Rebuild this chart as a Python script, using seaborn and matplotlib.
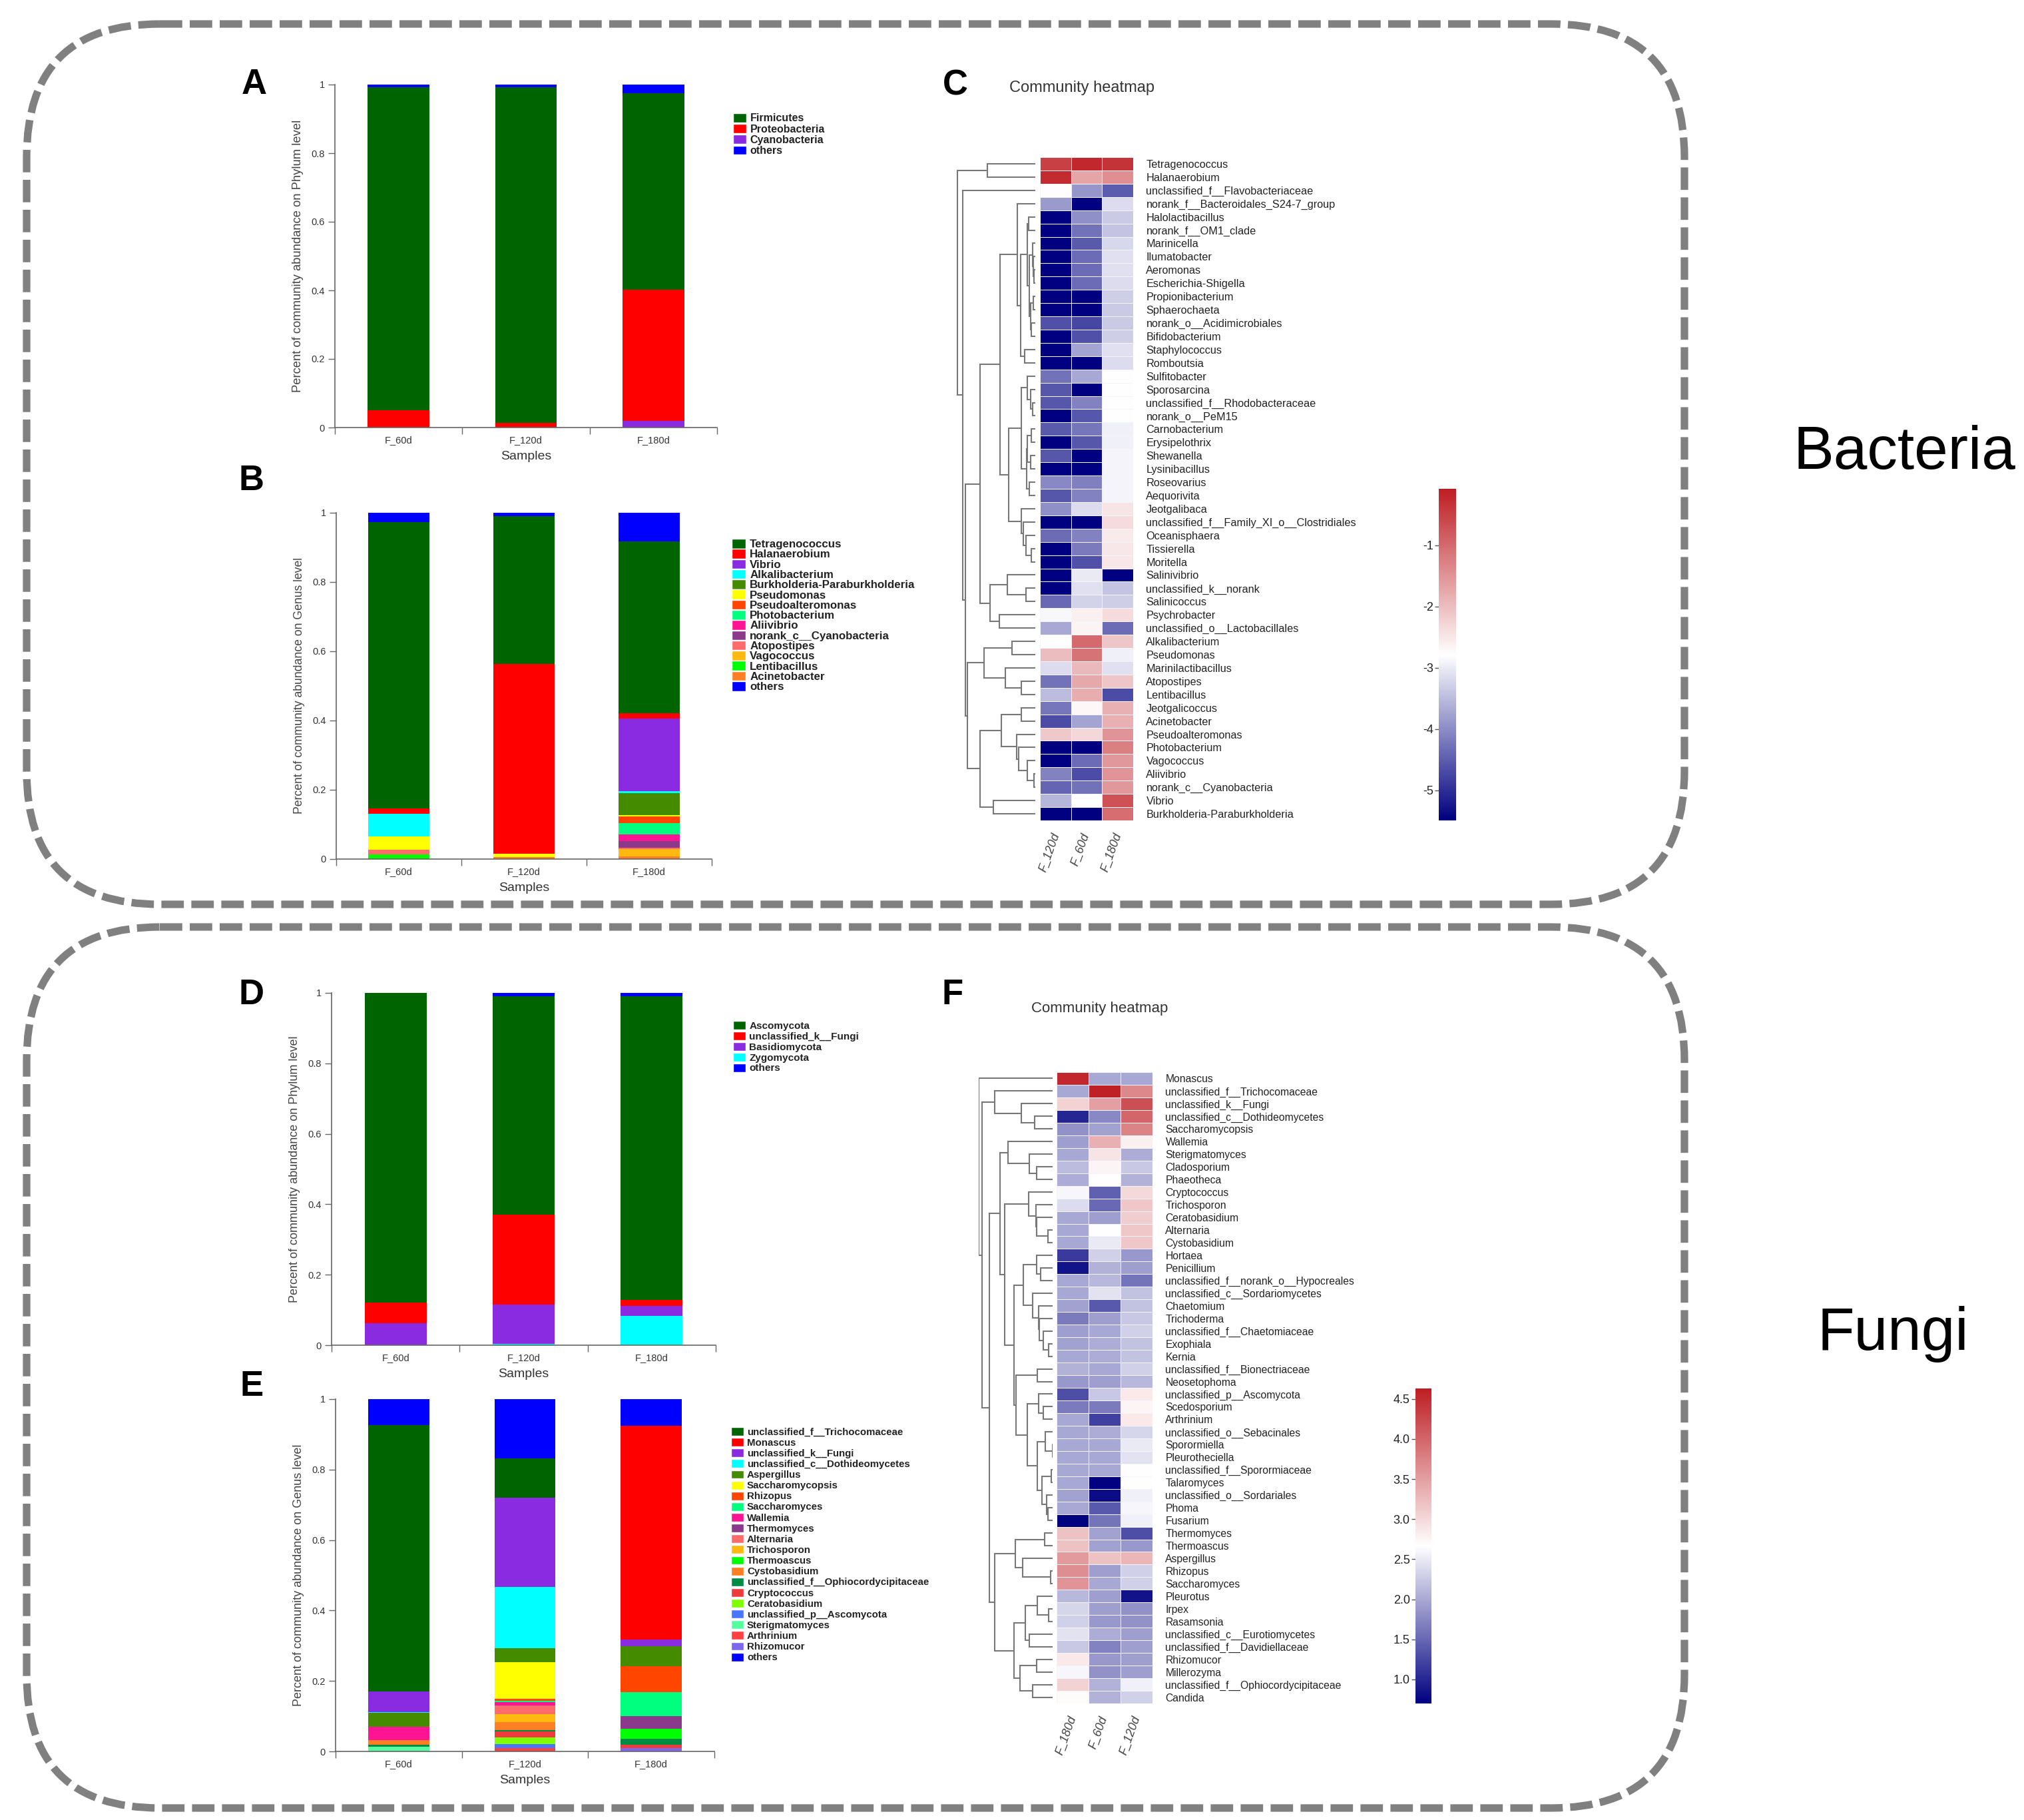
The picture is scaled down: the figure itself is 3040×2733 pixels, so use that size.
import matplotlib
matplotlib.use("Agg")
import matplotlib.pyplot as plt
from matplotlib.colors import LinearSegmentedColormap
from matplotlib.patches import FancyBboxPatch, Patch
from matplotlib.transforms import ScaledTranslation
import numpy as np
import seaborn as sns

sns.set_theme(style="white")
plt.rcParams["font.family"] = ["Liberation Sans", "DejaVu Sans"]

W, H = 3040, 2733
samples = ["F_60d", "F_120d", "F_180d"]
others = "#0000FF"

# A - bacteria, phylum
a_taxa = ["Firmicutes", "Proteobacteria", "Cyanobacteria", "others"]
a_colors = ["#006400", "#FF0000", "#8A2BE2", others]
a_60 = [0.943, 0.050, 0, 0.007]
a_120 = [0.979, 0.014, 0, 0.007]
a_180 = [0.574, 0.382, 0.019, 0.025]

# B - bacteria, genus
b_taxa = ["Tetragenococcus", "Halanaerobium", "Vibrio", "Alkalibacterium",
          "Burkholderia-Paraburkholderia", "Pseudomonas", "Pseudoalteromonas",
          "Photobacterium", "Aliivibrio", "norank_c__Cyanobacteria", "Atopostipes",
          "Vagococcus", "Lentibacillus", "Acinetobacter", "others"]
b_colors = ["#006400", "#FF0000", "#8A2BE2", "#00FFFF", "#458B00", "#FFFF00", "#FF4500",
            "#00FF7F", "#FF1493", "#8B3A8B", "#FF6A6A", "#FFB90F", "#00FF00", "#FF7F24", others]
b_60 = [0.827, 0.017, 0, 0.064, 0, 0.039, 0, 0, 0, 0, 0.013, 0, 0.014, 0, 0.026]
b_120 = [0.426, 0.548, 0, 0, 0, 0.010, 0, 0, 0, 0, 0, 0, 0, 0.006, 0.010]
b_180 = [0.497, 0.016, 0.209, 0.006, 0.064, 0.003, 0.020, 0.031, 0.020, 0.019, 0.005, 0.020, 0, 0.008, 0.082]

# D - fungi, phylum
d_taxa = ["Ascomycota", "unclassified_k__Fungi", "Basidiomycota", "Zygomycota", "others"]
d_colors = ["#006400", "#FF0000", "#8A2BE2", "#00FFFF", others]
d_60 = [0.879, 0.058, 0.063, 0, 0]
d_120 = [0.621, 0.254, 0.112, 0.004, 0.009]
d_180 = [0.863, 0.017, 0.027, 0.084, 0.009]

# E - fungi, genus
e_taxa = ["unclassified_f__Trichocomaceae", "Monascus", "unclassified_k__Fungi",
          "unclassified_c__Dothideomycetes", "Aspergillus", "Saccharomycopsis", "Rhizopus",
          "Saccharomyces", "Wallemia", "Thermomyces", "Alternaria", "Trichosporon", "Thermoascus",
          "Cystobasidium", "unclassified_f__Ophiocordycipitaceae", "Cryptococcus", "Ceratobasidium",
          "unclassified_p__Ascomycota", "Sterigmatomyces", "Arthrinium", "Rhizomucor", "others"]
e_colors = ["#006400", "#FF0000", "#8A2BE2", "#00FFFF", "#458B00", "#FFFF00", "#FF4500", "#00FF7F",
            "#FF1493", "#8B3A8B", "#FF6A6A", "#FFB90F", "#00FF00", "#FF7F24", "#008B45", "#EE3B3B",
            "#7FFF00", "#4876FF", "#54FF9F", "#FF4040", "#7B68EE", others]
e_60 = [0.756, 0, 0.059, 0.002, 0.039, 0, 0, 0.001, 0.037, 0, 0, 0, 0, 0.013, 0.006, 0, 0, 0, 0.013, 0, 0, 0.074]
e_120 = [0.111, 0, 0.253, 0.174, 0.040, 0.104, 0.005, 0.005, 0.008, 0, 0.025, 0.023, 0, 0.023, 0.004, 0.017,
         0.018, 0.011, 0, 0.010, 0, 0.169]
e_180 = [0, 0.607, 0.018, 0, 0.057, 0, 0.073, 0.069, 0, 0.036, 0, 0, 0.029, 0, 0.017, 0.008, 0, 0, 0, 0, 0.010, 0.076]

# C - bacteria heatmap
c_columns = ["F_120d", "F_60d", "F_180d"]
c_rows = ["Tetragenococcus", "Halanaerobium", "unclassified_f__Flavobacteriaceae",
          "norank_f__Bacteroidales_S24-7_group", "Halolactibacillus", "norank_f__OM1_clade", "Marinicella",
          "Ilumatobacter", "Aeromonas", "Escherichia-Shigella", "Propionibacterium", "Sphaerochaeta",
          "norank_o__Acidimicrobiales", "Bifidobacterium", "Staphylococcus", "Romboutsia", "Sulfitobacter",
          "Sporosarcina", "unclassified_f__Rhodobacteraceae", "norank_o__PeM15", "Carnobacterium",
          "Erysipelothrix", "Shewanella", "Lysinibacillus", "Roseovarius", "Aequorivita", "Jeotgalibaca",
          "unclassified_f__Family_XI_o__Clostridiales", "Oceanisphaera", "Tissierella", "Moritella",
          "Salinivibrio", "unclassified_k__norank", "Salinicoccus", "Psychrobacter",
          "unclassified_o__Lactobacillales", "Alkalibacterium", "Pseudomonas", "Marinilactibacillus",
          "Atopostipes", "Lentibacillus", "Jeotgalicoccus", "Acinetobacter", "Pseudoalteromonas",
          "Photobacterium", "Vagococcus", "Aliivibrio", "norank_c__Cyanobacteria", "Vibrio",
          "Burkholderia-Paraburkholderia"]
c_values = [[-0.5, -0.2, -0.35], [-0.25, -1.7, -1.45], [-2.75, -3.9, -4.5], [-3.85, -5.49, -3.15],
            [-5.49, -3.95, -3.35], [-5.49, -4.28, -3.4], [-5.49, -4.53, -3.2], [-5.49, -4.33, -3.12],
            [-5.49, -4.33, -3.12], [-5.49, -4.33, -3.15], [-5.49, -5.49, -3.3], [-5.49, -5.49, -3.35],
            [-4.63, -4.73, -3.35], [-5.49, -4.63, -3.3], [-5.49, -3.75, -3.12], [-5.49, -5.49, -3.15],
            [-4.28, -3.7, -2.8], [-4.58, -5.49, -2.8], [-4.58, -4.1, -2.8], [-5.49, -4.58, -2.8],
            [-4.53, -4.23, -2.95], [-5.49, -4.58, -2.95], [-4.58, -5.49, -2.9], [-5.49, -5.49, -2.9],
            [-4.05, -4.13, -2.9], [-4.58, -4.1, -2.9], [-3.95, -3.15, -2.45], [-5.49, -5.49, -2.35],
            [-4.33, -4.1, -2.55], [-5.49, -4.18, -2.5], [-5.49, -4.63, -2.5], [-5.49, -3.0, -5.49],
            [-5.49, -3.12, -3.4], [-4.38, -3.25, -3.3], [-2.85, -2.6, -2.35], [-3.7, -2.65, -4.33],
            [-2.8, -1.0, -2.1], [-2.0, -1.1, -2.95], [-3.15, -1.95, -3.12], [-4.28, -1.75, -2.1],
            [-3.5, -1.8, -4.68], [-4.23, -2.7, -1.85], [-4.68, -3.75, -1.85], [-2.15, -2.3, -1.5],
            [-5.49, -5.49, -1.25], [-5.49, -4.33, -1.55], [-4.1, -4.68, -1.5], [-4.43, -4.28, -1.55],
            [-3.55, -2.8, -0.7], [-5.49, -5.49, -1.05]]
c_ticks = [-1, -2, -3, -4, -5]
# (merge distance, child, child); an int child is a row index
c_tree = (228, (140, 0, 1), (213, 2, (206,
          (163, (103, (53, 3, (43, (23, (19, 4, 5), (17, (8, 6, (6, 7, (3, 8, 9))), (13, (5, 10, 11), (11, 12, 13)))),
                                (31, 14, 15))),
                 (78, (41, (23, 16, (13, 17, (8, 18, 19))), (25, (23, (11, 20, 21), (13, 22, 23)), (18, 24, 25))),
                  (41, 26, (35, 27, (28, 28, (11, 29, 30)))))),
           (133, (83, 31, (28, 32, 33)), (106, 34, 35))),
          (200, (151, (68, 36, 37), (88, 38, (41, 39, 40))),
           (163, (100, (41, 41, 42), (55, 43, (48, 44, (23, 45, (3, 46, 47))))), (123, 48, 49))))))

# F - fungi heatmap
f_columns = ["F_180d", "F_60d", "F_120d"]
f_rows = ["Monascus", "unclassified_f__Trichocomaceae", "unclassified_k__Fungi", "unclassified_c__Dothideomycetes",
          "Saccharomycopsis", "Wallemia", "Sterigmatomyces", "Cladosporium", "Phaeotheca", "Cryptococcus",
          "Trichosporon", "Ceratobasidium", "Alternaria", "Cystobasidium", "Hortaea", "Penicillium",
          "unclassified_f__norank_o__Hypocreales", "unclassified_c__Sordariomycetes", "Chaetomium", "Trichoderma",
          "unclassified_f__Chaetomiaceae", "Exophiala", "Kernia", "unclassified_f__Bionectriaceae", "Neosetophoma",
          "unclassified_p__Ascomycota", "Scedosporium", "Arthrinium", "unclassified_o__Sebacinales", "Sporormiella",
          "Pleurotheciella", "unclassified_f__Sporormiaceae", "Talaromyces", "unclassified_o__Sordariales", "Phoma",
          "Fusarium", "Thermomyces", "Thermoascus", "Aspergillus", "Rhizopus", "Saccharomyces", "Pleurotus", "Irpex",
          "Rasamsonia", "unclassified_c__Eurotiomycetes", "unclassified_f__Davidiellaceae", "Rhizomucor",
          "Millerozyma", "unclassified_f__Ophiocordycipitaceae", "Candida"]
f_values = [[4.55, 2.0, 2.0], [2.0, 4.6, 3.7], [3.05, 3.5, 4.2], [1.0, 1.75, 4.0], [1.83, 1.95, 3.75],
            [1.92, 3.35, 2.8], [2.0, 2.9, 2.03], [2.15, 2.75, 2.25], [2.03, 2.65, 2.08], [2.6, 1.45, 3.0],
            [2.4, 1.5, 3.15], [2.0, 1.92, 3.1], [2.0, 2.65, 3.15], [2.0, 2.5, 3.15], [1.15, 2.3, 1.88],
            [0.85, 2.08, 1.92], [2.0, 2.12, 1.6], [2.0, 2.45, 2.2], [1.95, 1.38, 2.2], [1.65, 1.92, 2.25],
            [1.92, 2.0, 2.3], [1.95, 2.03, 2.2], [2.0, 2.03, 2.2], [2.08, 2.0, 2.3], [1.88, 1.92, 2.12],
            [1.3, 2.25, 2.85], [1.65, 1.65, 2.75], [2.0, 1.2, 2.85], [2.0, 2.03, 2.35], [2.0, 2.0, 2.5],
            [2.0, 2.0, 2.45], [2.0, 2.0, 2.65], [2.0, 0.72, 2.65], [1.95, 0.8, 2.55], [2.0, 1.38, 2.6],
            [0.72, 1.6, 2.55], [3.2, 1.95, 1.3], [3.2, 1.95, 1.88], [3.55, 3.2, 3.3], [3.65, 1.92, 2.3],
            [3.6, 2.0, 2.3], [2.12, 1.92, 0.85], [2.35, 1.92, 1.83], [2.3, 1.88, 1.83], [2.45, 2.03, 1.92],
            [2.25, 1.7, 1.92], [2.85, 1.88, 1.92], [2.6, 1.83, 1.92], [3.05, 2.08, 2.55], [2.7, 2.08, 2.3]]
f_ticks = [1.0, 1.5, 2.0, 2.5, 3.0, 3.5, 4.0, 4.5]
f_tree = (248, 0, (236, (194, 1, (104, 2, (61, 3, 4))), (213,
          (176, (149, 5, (78, 6, (54, 7, 8))),
           (161, (81, 9, (56, 10, (54, 11, (16, 12, 13)))),
            (129, (99, (54, 14, (41, 15, 16)), (66, 17, (48, 18, (44, 19, (31, 20, (13, 21, 22)))))),
             (123, (51, 23, 24), (84, (46, 25, (31, 26, 27)),
                                  (51, (24, 28, (1, 29, 30)), (36, (4, 31, 32), (19, 33, (16, 34, 35))))))))),
          (194, (126, (26, 36, 37), (101, 38, (6, 39, 40))),
           (130, (91, (51, 41, (14, 42, 43)), (79, 44, 45)), (109, (54, 46, 47), (68, 48, 49)))))))

cmap = LinearSegmentedColormap.from_list("comm", ["#000080", "#FFFFFF", "#BE1E23"])
fig = plt.figure(figsize=(W / 100, H / 100), dpi=100, facecolor="white")


def px_axes(left, top, right, bottom):
    return fig.add_axes([left / W, 1 - bottom / H, (right - left) / W, (bottom - top) / H])


def stacked(box, legend_xy, taxa, colors, rows, level, font, spacing, ylab_size=13):
    ax = px_axes(*box)
    order = list(range(len(taxa) - 1))[::-1] + [len(taxa) - 1]
    bottom = np.zeros(3)
    for i in order:
        vals = np.array([r[i] for r in rows])
        sns.barplot(x=samples, y=vals, bottom=bottom, color=colors[i], width=0.485,
                    saturation=1, linewidth=0, ax=ax)
        bottom += vals
    ax.set_xlim(-0.5, 2.5)
    ax.set_ylim(0, 1)
    ax.set_yticks([0, 0.2, 0.4, 0.6, 0.8, 1], ["0", "0.2", "0.4", "0.6", "0.8", "1"])
    ax.set_xticks([-0.5, 0.5, 1.5, 2.5], ["", "", "", ""])
    ax.set_xticks([0, 1, 2], samples, minor=True)
    ax.tick_params(axis="x", which="major", length=7, width=1, color="#666666", bottom=True)
    ax.tick_params(axis="x", which="minor", length=0, pad=9, labelsize=10.5, labelcolor="#333333")
    ax.tick_params(axis="y", length=7, width=1, color="#666666", left=True, pad=4,
                   labelsize=10.5, labelcolor="#333333")
    sns.despine(ax=ax)
    for s in ("left", "bottom"):
        ax.spines[s].set_color("#666666")
        ax.spines[s].set_linewidth(1.2)
    ax.set_xlabel("Samples", fontsize=14, color="#333333", labelpad=6)
    ax.set_ylabel(f"Percent of community abundance on {level} level", fontsize=ylab_size,
                  color="#444444", labelpad=8)
    handles = [Patch(facecolor=c, label=t) for t, c in zip(taxa, colors)]
    ax.legend(handles=handles, loc="upper left", bbox_to_anchor=(legend_xy[0] / W, 1 - legend_xy[1] / H),
              bbox_transform=fig.transFigure, frameon=False, borderpad=0, borderaxespad=0,
              prop={"size": font, "weight": "bold"}, labelcolor="#222222", handlelength=1.25,
              handleheight=0.95, labelspacing=spacing, handletextpad=0.35)
    return ax


def draw_tree(ax, node):
    # returns the row position of a node, drawing its branches on the way
    if isinstance(node, int):
        return node + 0.5, 0
    dist, left, right = node
    y1, d1 = draw_tree(ax, left)
    y2, d2 = draw_tree(ax, right)
    ax.plot([d1, dist, dist, d2], [y1, y1, y2, y2], color="#777777", lw=1.5, solid_joinstyle="miter")
    return (y1 + y2) / 2, dist


def heat(box, rows, columns, values, tree, tree_box, tree_max, cbar_box, vlim, ticks, ticklabels, font):
    ax = px_axes(*box)
    cax = px_axes(*cbar_box)
    sns.heatmap(np.array(values), cmap=cmap, vmin=vlim[0], vmax=vlim[1], ax=ax, cbar_ax=cax,
                linewidths=0.6, linecolor="#F4F4FA", xticklabels=columns, yticklabels=rows)
    ax.yaxis.tick_right()
    ax.tick_params(axis="y", length=0, pad=14, labelsize=font, labelrotation=0, labelcolor="#222222")
    ax.tick_params(axis="x", length=0, pad=12, labelsize=13, labelcolor="#444444")
    shift = ScaledTranslation(-9 / 100, 0, fig.dpi_scale_trans)
    for lab in ax.get_xticklabels():
        lab.set_rotation(70)
        lab.set_fontstyle("italic")
        lab.set_ha("center")
        lab.set_transform(lab.get_transform() + shift)
    cax.yaxis.set_ticks_position("left")
    cax.set_yticks(ticks, ticklabels)
    cax.tick_params(length=4, width=1, color="#555555", labelsize=13, labelcolor="#222222", pad=2)
    for sp in cax.spines.values():
        sp.set_visible(False)
    tax = px_axes(*tree_box)
    draw_tree(tax, tree)
    tax.set_xlim(tree_max, 0)
    tax.set_ylim(len(rows), 0)
    tax.axis("off")


# panels
stacked((503, 127, 1077, 642), (1101, 170), a_taxa, a_colors, [a_60, a_120, a_180], "Phylum", 11.5, 0.05, 13.2)
stacked((505, 770, 1069, 1290), (1099, 809), b_taxa, b_colors, [b_60, b_120, b_180], "Genus", 12.2, -0.05, 12.7)
stacked((498, 1491, 1075, 2020), (1101, 1533), d_taxa, d_colors, [d_60, d_120, d_180], "Phylum", 11, 0.07)
stacked((504, 2101, 1073, 2630), (1098, 2143), e_taxa, e_colors, [e_60, e_120, e_180], "Genus", 10.8, 0.1)

heat((1562, 236, 1702, 1232), c_rows, c_columns, c_values, c_tree, (1427, 236, 1555, 1232), 250,
     (2161, 734, 2187, 1232), (-5.49, -0.08), c_ticks, [str(t) for t in c_ticks], 11.7)
heat((1587, 1610, 1731, 2558), f_rows, f_columns, f_values, f_tree, (1470, 1610, 1581, 2558), 248,
     (2126, 2085, 2150, 2558), (0.70, 4.63), f_ticks, [f"{t:.1f}" for t in f_ticks], 11.3)

# overlay: dashed frames, panel letters, group names
over = fig.add_axes([0, 0, 1, 1], facecolor="none")
over.set_xlim(0, W)
over.set_ylim(H, 0)
over.axis("off")
for top, bottom in ((36, 1358), (1392, 2715)):
    over.add_patch(FancyBboxPatch((40, top), 2490, bottom - top, boxstyle="round,pad=0,rounding_size=200",
                                  fill=False, edgecolor="#808080", lw=8.1, linestyle=(0, (3, 1)),
                                  capstyle="butt"))
for letter, x, y in (("A", 382, 127), ("B", 378, 722), ("C", 1435, 128),
                     ("D", 378, 1494), ("E", 378, 2082), ("F", 1431, 1494)):
    over.text(x, y, letter, fontsize=38, fontweight="bold", ha="center", va="center", color="black")
over.text(2860, 680, "Bacteria", fontsize=65.5, ha="center", va="center", color="black")
over.text(2843, 2003, "Fungi", fontsize=65.5, ha="center", va="center", color="black")
over.text(1625, 132, "Community heatmap", fontsize=17, ha="center", va="center", color="#333333")
over.text(1652, 1514, "Community heatmap", fontsize=16, ha="center", va="center", color="#333333")

fig.savefig("out.png", dpi=100)
